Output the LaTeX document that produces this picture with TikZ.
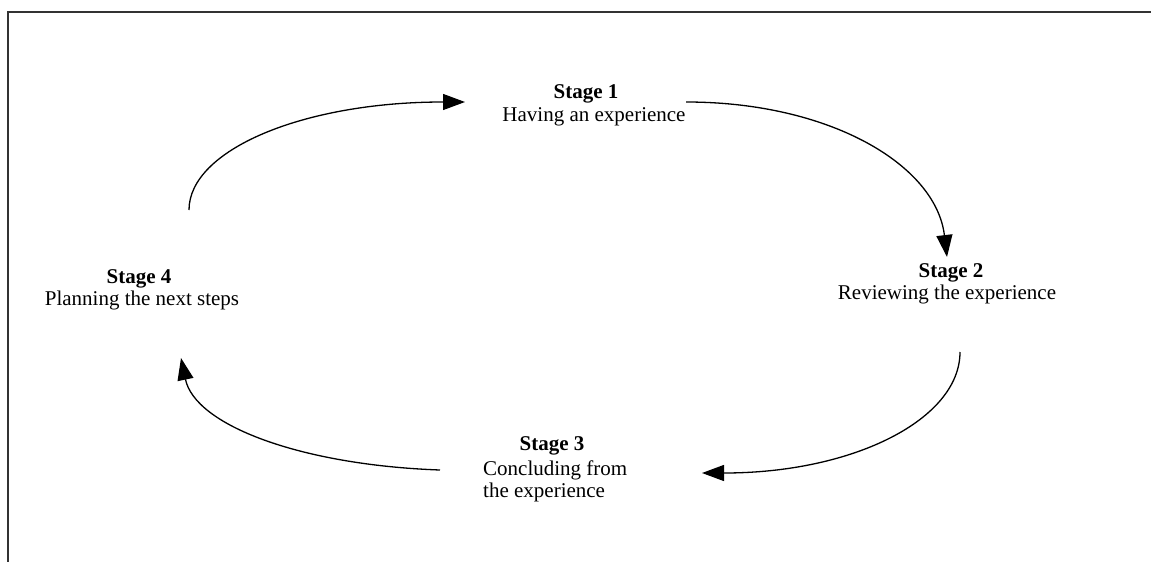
\documentclass[tikz,border=0pt]{standalone}
\usepackage{fontspec}
\setmainfont{Liberation Serif}
\usetikzlibrary{arrows.meta}
\begin{document}
\begin{tikzpicture}[x=1pt,y=-1pt,
  title/.style={font=\fontsize{21}{24}\selectfont\bfseries,anchor=base,inner sep=0pt},
  desc/.style={font=\fontsize{21}{24}\selectfont,anchor=base,inner sep=0pt},
  arc/.style={line width=1.3pt,-{Triangle[length=22pt,width=16pt]}},
  frame/.style={line width=2pt,black!80}]
\useasboundingbox (0,0) rectangle (1151,562);
% frame (top and left edges)
\coordinate (fA) at (1151,12);
\coordinate (fB) at (8,12);
\coordinate (fC) at (8,562);
\draw[frame] (fA) -- (fB) -- (fC);
% texts
\node[title] (s1t) at (586,98) {Stage 1};
\node[desc]  (s1d) at (594,121) {Having an experience};
\node[title] (s2t) at (951,277) {Stage 2};
\node[desc]  (s2d) at (947,299) {Reviewing the experience};
\node[title] (s3t) at (552,450) {Stage 3};
\node[desc,anchor=base west] (s3d) at (483,475) {Concluding from};
\node[desc,anchor=base west] (s3e) at (483,497) {the experience};
\node[title] (s4t) at (139,283) {Stage 4};
\node[desc]  (s4d) at (142,305) {Planning the next steps};
% arc end points
\coordinate (a1s) at (189,210);
\coordinate (a1e) at (465,102);
\coordinate (a2s) at (686,102);
\coordinate (a2e) at (947,257);
\coordinate (a3s) at (960,352);
\coordinate (a3e) at (702,473);
\coordinate (a4s) at (440,470);
\coordinate (a4e) at (181,358);
% arcs
\draw[arc] (a1s) .. controls (189,150) and (303,102) .. (443,102) -- (a1e);
\draw[arc] (a2s) .. controls (830,102) and (936,165) .. (a2e);
\draw[arc] (a3s) .. controls (960,419) and (854,473) .. (724,473) -- (a3e);
\draw[arc] (a4s) .. controls (300,465) and (195,425) .. (a4e);
\end{tikzpicture}
\end{document}
